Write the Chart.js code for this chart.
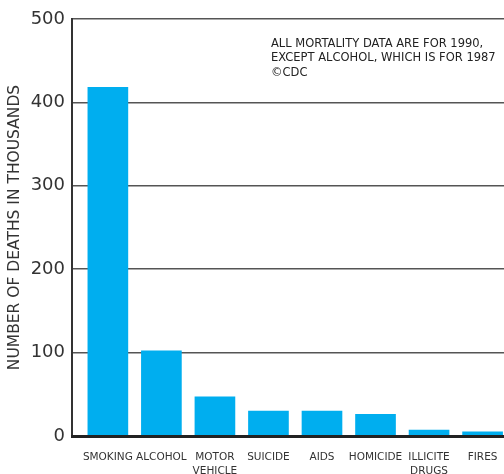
<!DOCTYPE html>
<html>
<head>
<meta charset="utf-8">
<script src="https://cdn.jsdelivr.net/npm/chart.js@4"></script>
<style>
    html, body { margin: 0; padding: 0; background: #fff; overflow: hidden; }
    #wrap { width: 504px; height: 474px; position: relative; }
</style>
</head>
<body>
<div id="wrap"><canvas id="deathChart"></canvas></div>
<script>
// 死因ごとの死亡者数（千人）
const causes = [['SMOKING'], ['ALCOHOL'], ['MOTOR', 'VEHICLE'], ['SUICIDE'], ['AIDS'], ['HOMICIDE'], ['ILLICITE', 'DRUGS'], ['FIRES']];
const deaths = [418, 102, 47, 30, 30, 26, 7, 5];
const yTicks = [0, 100, 200, 300, 400, 500];
const noteLines = ['ALL MORTALITY DATA ARE FOR 1990,', 'EXCEPT ALCOHOL, WHICH IS FOR 1987', '©CDC'];

const FONT = '"DejaVu Sans", sans-serif';
const BAR_COLOR = '#00AEEF';

// 注記テキスト
const notePlugin = {
    id: 'note',
    afterDraw(chart) {
        const ctx = chart.ctx;
        ctx.save();
        ctx.fillStyle = '#222';
        ctx.font = '11.5px ' + FONT;
        ctx.textBaseline = 'middle';
        noteLines.forEach((line, i) => {
            ctx.fillText(line, 271, 44 + i * 14.5);
        });
        ctx.restore();
    }
};

// ゼロの軸線（太線）
const baseLinePlugin = {
    id: 'baseLine',
    afterDatasetsDraw(chart) {
        const { ctx, chartArea, scales } = chart;
        const y0 = scales.y.getPixelForValue(0);
        ctx.save();
        ctx.strokeStyle = '#222';
        ctx.lineWidth = 3;
        ctx.beginPath();
        ctx.moveTo(chartArea.left - 1, y0 + 0.5);
        ctx.lineTo(chartArea.right, y0 + 0.5);
        ctx.stroke();
        ctx.restore();
    }
};

const points = deaths.map((v, i) => ({ x: i, y: v }));

new Chart(document.getElementById('deathChart'), {
    type: 'bar',
    data: {
        datasets: [{
            data: points,
            backgroundColor: BAR_COLOR,
            barThickness: 40
        }]
    },
    options: {
        responsive: true,
        maintainAspectRatio: false,
        animation: false,
        layout: { padding: { top: 19, right: 0, left: 0, bottom: 0 } },
        plugins: {
            legend: { display: false },
            tooltip: { enabled: false }
        },
        scales: {
            x: {
                type: 'linear',
                offset: false,
                min: -0.67,
                max: 7.4,
                afterFit: (scale) => {
                    scale.height = 38;
                    scale.paddingLeft = 0;
                    scale.paddingRight = 0;
                },
                afterBuildTicks: (scale) => {
                    scale.ticks = causes.map((c, i) => ({ value: i }));
                },
                grid: { display: false, drawTicks: false },
                border: { display: false },
                ticks: {
                    autoSkip: false,
                    maxRotation: 0,
                    padding: 14,
                    color: '#333',
                    font: { family: FONT, size: 10.5, lineHeight: 1.35 },
                    callback: (value) => causes[value]
                }
            },
            y: {
                min: 0,
                max: 500,
                afterFit: (scale) => { scale.width = 72; },
                afterBuildTicks: (scale) => {
                    scale.ticks = yTicks.map((v) => ({ value: v }));
                },
                grid: { color: '#555', lineWidth: 1.5, drawTicks: false },
                border: { display: true, color: '#333', width: 2 },
                ticks: {
                    padding: 7,
                    color: '#333',
                    font: { family: FONT, size: 18 }
                },
                title: {
                    display: true,
                    text: 'NUMBER OF DEATHS IN THOUSANDS',
                    color: '#333',
                    padding: { top: 6, bottom: 0 },
                    font: { family: FONT, size: 15.5 }
                }
            }
        }
    },
    plugins: [notePlugin, baseLinePlugin]
});
</script>
</body>
</html>
